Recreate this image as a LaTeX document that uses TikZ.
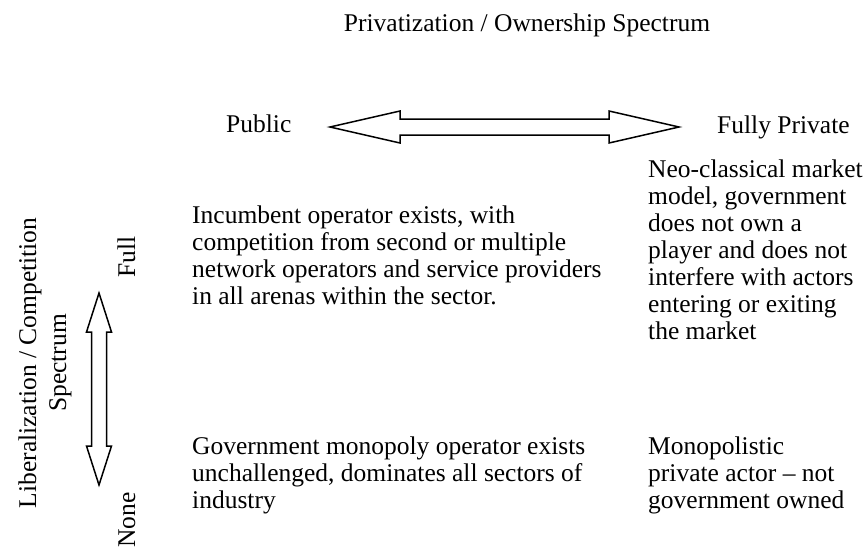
\documentclass[tikz,border=0pt]{standalone}
\usepackage{fontspec}
\setmainfont{Liberation Serif}
\usetikzlibrary{positioning, calc}

\tikzset{
    lbl/.style={inner sep=0pt, font=\fontsize{25.5}{27}\selectfont},
    % multi-line cells sit on the baseline of their last line
    blk/.style={lbl, align=left, anchor=base west},
    fat/.style={draw=black, line width=1.5pt, fill=white, line join=miter},
}

\begin{document}
\begin{tikzpicture}[x=1pt, y=-1pt]
    \useasboundingbox (0,0) rectangle (866,558);

    % headings
    \node[lbl, anchor=base] (own) at (527,31) {Privatization / Ownership Spectrum};
    \node[lbl, anchor=base west] (pub) at (226,132) {Public};
    \node[lbl, anchor=base west] (priv) at (717,133) {Fully Private};

    % hollow double arrow, public <-> private
    \coordinate (hl) at (330,127);
    \coordinate (hr) at (679,127);
    \draw[fat] (hl) -- ++(70,-16) -- ++(0,8) -- ($(hr)+(-70,-8)$) -- ++(0,-8) -- (hr)
        -- ++(-70,16) -- ++(0,-8) -- ($(hl)+(70,8)$) -- ++(0,8) -- cycle;

    % hollow double arrow, full <-> none
    \coordinate (vt) at (99,293);
    \coordinate (vb) at (99,485);
    \draw[fat] (vt) -- ++(12.5,39) -- ++(-5,0) -- ($(vb)+(7.5,-39)$) -- ++(5,0) -- (vb)
        -- ++(-12.5,-39) -- ++(5,0) -- ($(vt)+(-7.5,39)$) -- ++(-5,0) -- cycle;

    \node[lbl, rotate=90, align=center, font=\fontsize{25.5}{30}\selectfont] (lib) at (45,363)
        {Liberalization / Competition\\Spectrum};
    \node[lbl, rotate=90, anchor=base] (full) at (135,257) {Full};
    \node[lbl, rotate=90, anchor=base] (none) at (135,520) {None};

    % cells
    \node[blk] (inc) at (192,304) {Incumbent operator exists, with\\competition from second or multiple\\network operators and service providers\\in all arenas within the sector.};
    \node[blk] (neo) at (648,339) {Neo-classical market\\model, government\\does not own a\\player and does not\\interfere with actors\\entering or exiting\\the market};
    \node[blk] (gov) at (192,508) {Government monopoly operator exists\\unchallenged, dominates all sectors of\\industry};
    \node[blk] (mono) at (648,508) {Monopolistic\\private actor -- not\\government owned};
\end{tikzpicture}
\end{document}
